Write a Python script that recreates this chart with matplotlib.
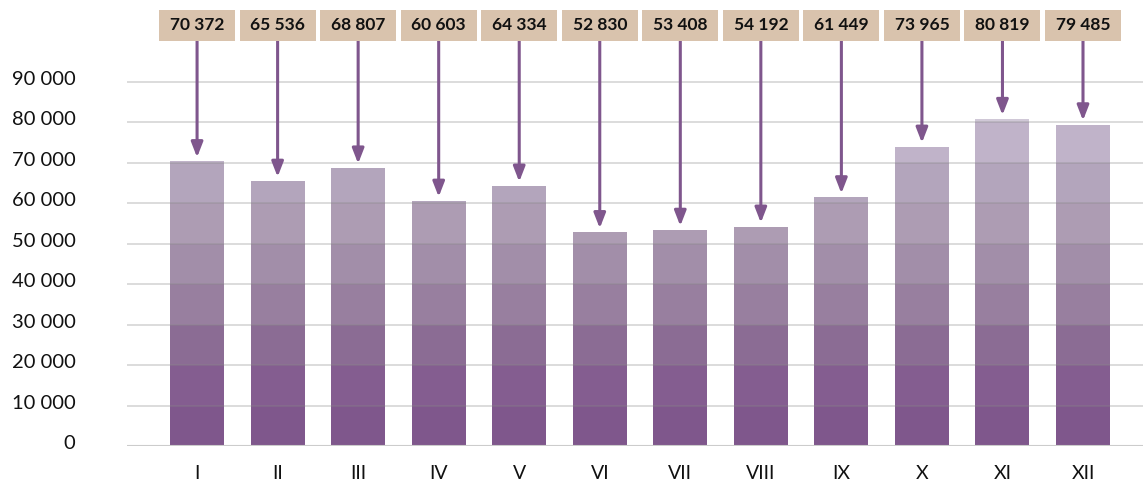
import matplotlib.pyplot as plt
from matplotlib.patches import Rectangle
from matplotlib.transforms import ScaledTranslation

months = ['I', 'II', 'III', 'IV', 'V', 'VI', 'VII', 'VIII', 'IX', 'X', 'XI', 'XII']
values = [70372, 65536, 68807, 60603, 64334, 52830, 53408, 54192, 61449, 73965, 80819, 79485]
yticks = [0, 10000, 20000, 30000, 40000, 50000, 60000, 70000, 80000, 90000]

# band colours, bottom to top (one per 10 000 step)
bands = ['#7f578c', '#845d90', '#8b6c94', '#987f9f', '#a28ea9',
         '#ad9cb3', '#b3a5bc', '#c0b3c9', '#d0c8d7']

plt.rcParams['font.family'] = ['Lato', 'DejaVu Sans']

W, H = 1143, 483
fig = plt.figure(figsize=(W / 100, H / 100), dpi=100)
ax = fig.add_axes([127 / W, 37 / H, 1 - 127 / W, (446 - 82) / H * 10 / 9])

x = list(range(len(months)))
for k in range(len(bands)):
    lo = k * 10000
    hs = [max(0, min(v, lo + 10000) - lo) for v in values]
    ax.bar(x, hs, bottom=lo, width=0.67, color=bands[k], zorder=2)

for t in yticks[1:]:
    ax.axhline(t, color='#888888', alpha=0.35, lw=1.2, zorder=3)
ax.axhline(0, color='#cccccc', lw=1.5, zorder=3)

ax.set_xlim(-0.87, 11.745)
ax.set_ylim(0, 100000)
ax.set_yticks(yticks)
ax.set_yticklabels([f'{t:,}'.replace(',', ' ') for t in yticks], fontsize=14.5, color='#111111')
ax.set_xticks(x)
ax.set_xticklabels(months, fontsize=14, color='#111111')
ax.tick_params(axis='y', length=0, pad=37)
ax.tick_params(axis='x', length=0, pad=14)
for s in ax.spines.values():
    s.set_visible(False)
up = ScaledTranslation(0, 4 / 100, fig.dpi_scale_trans)
for lab in ax.get_yticklabels():
    lab.set_transform(lab.get_transform() + up)

# label boxes with arrows pointing down to each bar
box_w, box_h, box_top = 76, 31, 10
for i, v in enumerate(values):
    xp = ax.transData.transform((i, 0))[0]
    fig.patches.append(Rectangle(((xp - box_w / 2) / W, 1 - (box_top + box_h) / H),
                                 box_w / W, box_h / H, transform=fig.transFigure,
                                 fc='#d9c3ad', ec='none'))
    fig.text(xp / W, 1 - (box_top + box_h / 2) / H, f'{v:,}'.replace(',', ' '),
             ha='center', va='center', fontsize=12.5, fontweight='bold', color='#111111')
    ax.annotate('', xy=(i, v + 1000), xycoords='data',
                xytext=(xp / W, 1 - (box_top + box_h) / H), textcoords='figure fraction',
                arrowprops=dict(arrowstyle='-|>,head_length=0.9,head_width=0.35',
                                color='#7f568d', lw=2.2, shrinkA=0, shrinkB=0),
                annotation_clip=False, zorder=4)

fig.savefig('out.png', dpi=100)
